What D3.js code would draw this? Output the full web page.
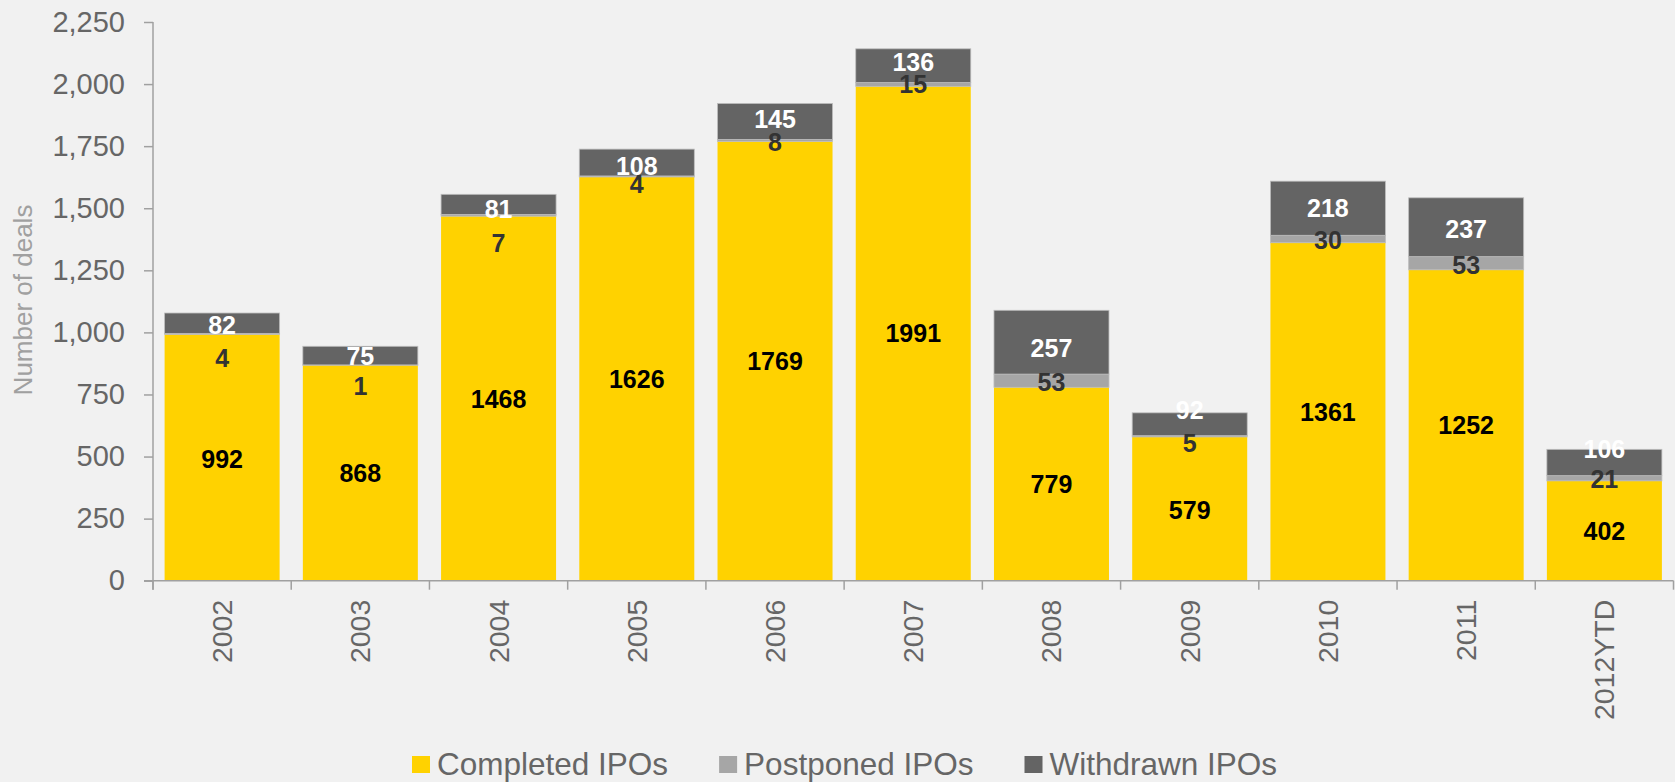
<!DOCTYPE html>
<html>
<head>
<meta charset="utf-8">
<script src="https://cdn.jsdelivr.net/npm/d3@7"></script>
<style>
  html, body { margin: 0; padding: 0; background: #f1f1f1; }
  svg { display: block; }
  text { font-family: "Liberation Sans", Arial, sans-serif; }
</style>
</head>
<body>
<svg id="chart" width="1675" height="782"></svg>
<script>
// ---- data ----
const years = ["2002","2003","2004","2005","2006","2007","2008","2009","2010","2011","2012YTD"];
const completed = [992, 868, 1468, 1626, 1769, 1991, 779, 579, 1361, 1252, 402];
const postponed = [4, 1, 7, 4, 8, 15, 53, 5, 30, 53, 21];
const withdrawn = [82, 75, 81, 108, 145, 136, 257, 92, 218, 237, 106];
const seriesNames = ["Completed IPOs", "Postponed IPOs", "Withdrawn IPOs"];
const yTicks = [0, 250, 500, 750, 1000, 1250, 1500, 1750, 2000, 2250];

// ---- layout / style (not data) ----
const colors = ["#ffd200", "#a6a6a6", "#646464"];
const labelColors = ["#000000", "#333333", "#ffffff"];
// manual label nudges (px) as in the original chart, per series
const labelDy = [
  [2, 0, 1, 0, 0, 0, 0, 1, 0, 0, 0],
  [24, 21, 28, 8, 2, 0, 1, 7, 1, 2, 1],
  [2, 0, 5, 4, -2, -4, 6, -14, 0, 2, -13]
];

const svg = d3.select("#chart");
const plotLeft = 153, plotRight = 1673.5, plotTop = 22, plotBottom = 580.7;

const x = d3.scaleBand().domain(years).range([plotLeft, plotRight]).paddingInner(0.168).paddingOuter(0.084);
const y = d3.scaleLinear().domain([0, 2250]).range([plotBottom, plotTop]);

const table = years.map((yr, i) => ({ year: yr, c: completed[i], p: postponed[i], w: withdrawn[i], i }));
const stack = d3.stack().keys(["c", "p", "w"]);
const layers = stack(table);

const axisColor = "#a0a0a0";
const tickText = "#666666";

// bars
const g = svg.append("g");
layers.forEach((layer, k) => {
  g.append("g").selectAll("rect").data(layer).join("rect")
    .attr("x", d => x(d.data.year))
    .attr("width", x.bandwidth())
    .attr("y", d => y(d[1]))
    .attr("height", d => y(d[0]) - y(d[1]))
    .attr("fill", colors[k])
    .attr("stroke", k === 0 ? "none" : "#bdbdbd")
    .attr("stroke-width", k === 0 ? 0 : 0.8);
});

// labels
const fs = 25;
layers.forEach((layer, k) => {
  g.append("g").selectAll("text").data(layer).join("text")
    .attr("x", d => x(d.data.year) + x.bandwidth() / 2)
    .attr("y", (d, i) => y((d[0] + d[1]) / 2) + labelDy[k][i] + fs * 0.358)
    .attr("text-anchor", "middle")
    .attr("font-size", fs)
    .attr("font-weight", "bold")
    .attr("fill", labelColors[k])
    .text(d => d[1] - d[0]);
});

// y axis
const yAxis = d3.axisLeft(y).tickValues(yTicks).tickSize(9).tickPadding(19).tickFormat(d3.format(","));
const ya = svg.append("g").attr("transform", `translate(${plotLeft},0)`).call(yAxis);
ya.select(".domain").remove();
ya.selectAll(".tick line").attr("stroke", axisColor).attr("stroke-width", 1.5);
ya.selectAll(".tick text").attr("font-size", 29).attr("fill", tickText)
  .attr("font-family", "Liberation Sans, Arial, sans-serif");
svg.append("line").attr("x1", plotLeft).attr("x2", plotLeft).attr("y1", plotTop).attr("y2", plotBottom + 9)
  .attr("stroke", axisColor).attr("stroke-width", 1.5);

// x axis
svg.append("line").attr("x1", plotLeft - 9).attr("x2", plotRight).attr("y1", plotBottom).attr("y2", plotBottom)
  .attr("stroke", axisColor).attr("stroke-width", 1.5);
const boundaries = years.map(yv => x(yv) - x.step() * x.paddingInner() / 2).concat([plotRight]);
svg.append("g").selectAll("line").data(boundaries).join("line")
  .attr("x1", d => d).attr("x2", d => d).attr("y1", plotBottom).attr("y2", plotBottom + 9)
  .attr("stroke", axisColor).attr("stroke-width", 1.5);
svg.append("g").selectAll("text").data(years).join("text")
  .attr("transform", d => `translate(${x(d) + x.bandwidth() / 2 + 10},${plotBottom + 19}) rotate(-90)`)
  .attr("text-anchor", "end")
  .attr("font-size", 28.5)
  .attr("fill", tickText)
  .text(d => d);

// y title
svg.append("text")
  .attr("transform", `translate(${32},${300}) rotate(-90)`)
  .attr("text-anchor", "middle")
  .attr("font-size", 26)
  .attr("fill", "#a0a0a0")
  .text("Number of deals");

// legend
let lx = 412;
const legendY = 775;
seriesNames.forEach((name, k) => {
  const item = svg.append("g").attr("transform", `translate(${lx},0)`);
  item.append("rect").attr("x", 0).attr("y", legendY - 19).attr("width", 18).attr("height", 17).attr("fill", colors[k]);
  const t = item.append("text").attr("x", 25).attr("y", legendY).attr("font-size", 31.5).attr("fill", tickText).text(name);
  const w = t.node().getComputedTextLength();
  lx += 25 + w + 51;
});
</script>
</body>
</html>
